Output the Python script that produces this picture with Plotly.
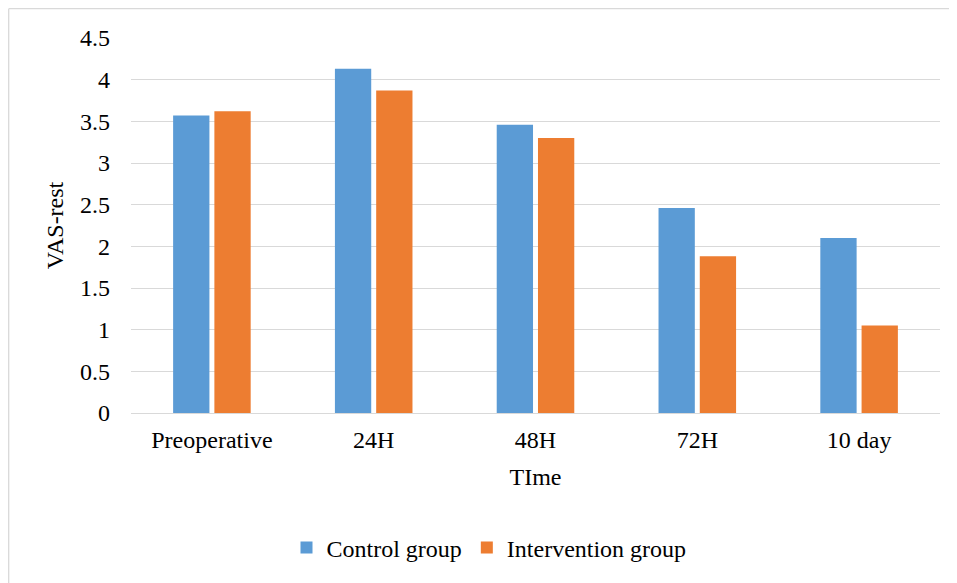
import plotly.graph_objects as go

categories = ["Preoperative", "24H", "48H", "72H", "10 day"]
control = [3.57, 4.13, 3.46, 2.46, 2.10]
intervention = [3.62, 3.87, 3.30, 1.88, 1.05]
y_ticks = [0, 0.5, 1, 1.5, 2, 2.5, 3, 3.5, 4, 4.5]
y_tick_labels = ["0", "0.5", "1", "1.5", "2", "2.5", "3", "3.5", "4", "4.5"]

FF = "Times New Roman, Liberation Serif, serif"
W, H = 949, 575
L, R, T, B = 123, 17, 30, 170
PW, PH = W - L - R, H - T - B

fig = go.Figure()
fig.add_trace(go.Bar(x=categories, y=control, name="Control group",
                     marker=dict(color="#5B9BD5", line=dict(width=0))))
fig.add_trace(go.Bar(x=categories, y=intervention, name="Intervention group",
                     marker=dict(color="#ED7D31", line=dict(width=0))))

fig.update_layout(
    width=W, height=H,
    margin=dict(l=L, r=R, t=T, b=B),
    paper_bgcolor="white", plot_bgcolor="white",
    barmode="group", bargap=0.49, bargroupgap=0.12,
    font=dict(family=FF, size=24, color="#000000"),
    showlegend=True,
    legend=dict(orientation="h", x=(481 - L) / PW, y=(T + PH - 540) / PH,
                xanchor="center", yanchor="middle", itemwidth=30,
                font=dict(family=FF, size=24, color="#000000"), traceorder="normal"),
    xaxis=dict(title=dict(text="TIme", font=dict(family=FF, size=24), standoff=16),
               showgrid=False, showline=False, ticks="", ticklabelstandoff=10,
               tickfont=dict(family=FF, size=24)),
    yaxis=dict(title=dict(text="VAS-rest", font=dict(family=FF, size=24), standoff=9),
               range=[0, 4.5], tickvals=y_ticks, ticktext=y_tick_labels,
               showgrid=True, gridcolor="#D9D9D9", gridwidth=1.3,
               zeroline=True, zerolinecolor="#D9D9D9", zerolinewidth=1.3,
               showline=False, ticks="", ticklabelstandoff=20,
               tickfont=dict(family=FF, size=24)),
)

# outer chart border (top and left edges visible in the window)
fig.add_shape(type="line", xref="paper", yref="paper",
              x0=(0.7 - L) / PW, x1=(W + 10 - L) / PW,
              y0=(T + PH - 0.7) / PH, y1=(T + PH - 0.7) / PH,
              line=dict(color="#D9D9D9", width=1.3), layer="below")
fig.add_shape(type="line", xref="paper", yref="paper",
              x0=(0.7 - L) / PW, x1=(0.7 - L) / PW,
              y0=(T + PH - (H + 10)) / PH, y1=(T + PH - 0.7) / PH,
              line=dict(color="#D9D9D9", width=1.3), layer="below")

fig.write_html("out.html")
